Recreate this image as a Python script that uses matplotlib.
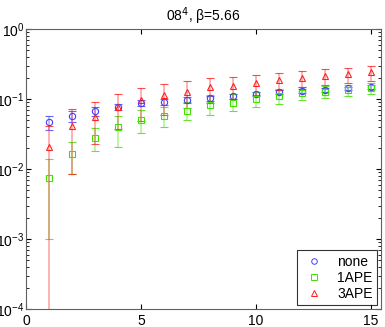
import numpy as np
import matplotlib.pyplot as plt
from matplotlib.lines import Line2D

plt.rcParams['font.family'] = ['Liberation Sans', 'DejaVu Sans']

t = np.arange(1, 16)

none_val = [0.047, 0.057, 0.068, 0.077, 0.088, 0.092, 0.098, 0.103,
            0.110, 0.118, 0.126, 0.131, 0.136, 0.142, 0.150]
none_lo = [0.036, 0.047, 0.058, 0.069, 0.079, 0.083, 0.089, 0.094,
           0.101, 0.109, 0.117, 0.122, 0.127, 0.133, 0.140]
none_hi = [0.058, 0.068, 0.078, 0.085, 0.097, 0.101, 0.107, 0.112,
           0.119, 0.127, 0.135, 0.140, 0.145, 0.151, 0.160]

ape1_val = [0.0074, 0.0166, 0.028, 0.040, 0.051, 0.057, 0.068, 0.082,
            0.089, 0.099, 0.110, 0.123, 0.127, 0.134, 0.145]
ape1_lo = [0.001, 0.0085, 0.018, 0.021, 0.033, 0.040, 0.050, 0.059,
           0.067, 0.076, 0.085, 0.096, 0.102, 0.110, 0.120]
ape1_hi = [0.014, 0.0246, 0.038, 0.058, 0.069, 0.076, 0.092, 0.114,
           0.118, 0.127, 0.138, 0.150, 0.152, 0.158, 0.170]

ape3_val = [0.0204, 0.041, 0.056, 0.078, 0.096, 0.114, 0.127, 0.147,
            0.153, 0.169, 0.187, 0.200, 0.213, 0.230, 0.243]
ape3_lo = [1e-6, 0.0086, 0.023, 0.037, 0.049, 0.060, 0.074, 0.087,
           0.099, 0.114, 0.134, 0.147, 0.157, 0.168, 0.179]
ape3_hi = [0.041, 0.071, 0.091, 0.118, 0.144, 0.164, 0.181, 0.197,
           0.206, 0.218, 0.235, 0.248, 0.265, 0.280, 0.293]

series = [
    ('none', none_val, none_lo, none_hi, 'o', '#4040ff'),
    ('1APE', ape1_val, ape1_lo, ape1_hi, 's', '#40e000'),
    ('3APE', ape3_val, ape3_lo, ape3_hi, '^', '#ff2020'),
]

fig = plt.figure(figsize=(3.85, 3.27), dpi=100)
ax = fig.add_axes([0.0675, 0.055, 0.922, 0.856])

handles = []
for name, v, lo, hi, m, c in series:
    v = np.array(v)
    yerr = [v - np.array(lo), np.array(hi) - v]
    ln, caps, bars = ax.errorbar(t, v, yerr=yerr, fmt=m, color=c, mfc='none',
                                 mec=c, ms=4.5, mew=0.8, capsize=3, elinewidth=1.2,
                                 capthick=1)
    for b in bars:
        b.set_alpha(0.4)
    for cp in caps:
        cp.set_alpha(0.8)
    handles.append(Line2D([], [], ls='none', marker=m, ms=4, mfc='none',
                          mec=c, mew=0.7, label=name))

ax.set_yscale('log')
ax.set_ylim(1e-4, 1)
ax.set_xlim(0, 15.45)
ax.set_xticks([0, 5, 10, 15])
ax.tick_params(which='both', direction='in', top=True, right=True, labelsize=10)
ax.tick_params(axis='y', pad=1)
for s in ax.spines.values():
    s.set_color('#606060')
ax.set_title(r'08$^4$, $\mathregular{\beta}$=5.66', fontsize=10)

leg = ax.legend(handles=handles, loc='lower right', fontsize=10, frameon=True,
                fancybox=False, handlelength=1.8, handletextpad=0.8,
                borderaxespad=0.3, labelspacing=0.15, borderpad=0.3)
leg.get_frame().set_edgecolor('black')
leg.get_frame().set_linewidth(0.8)

fig.savefig('out.png', dpi=100)
